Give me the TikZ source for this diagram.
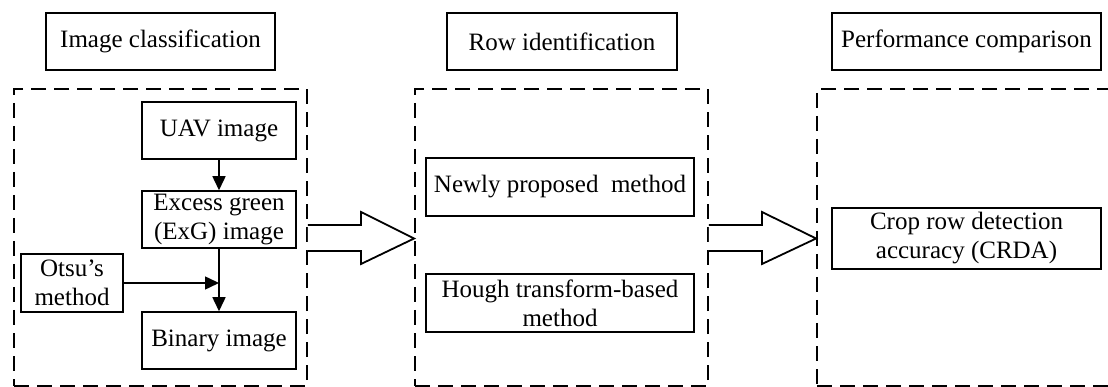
\documentclass[tikz,border=0pt]{standalone}
\usepackage{fontspec}
\setmainfont{Liberation Serif}
\usetikzlibrary{arrows.meta,calc}
\begin{document}
\begin{tikzpicture}[x=1pt,y=-1pt,
  every node/.style={font=\fontsize{25}{29}\selectfont},
  box/.style={draw,line width=1.5pt,inner sep=0pt,align=center,anchor=center},
  dbox/.style={draw,dash pattern=on 15pt off 8pt,line width=1.8pt,inner sep=0pt,anchor=center},
  arr/.style={line width=1.5pt,-{Triangle[length=14pt,width=13pt]}},
  bigarrow/.style={line width=1.8pt,line join=miter}]
\useasboundingbox (0,0) rectangle (1108,387);
% section titles
\node[box,minimum width=229pt,minimum height=57pt] (t1) at (160.5,41.5) {Image classification};
\node[box,minimum width=230pt,minimum height=57pt] (t2) at (562,41.5) {Row identification};
\node[box,minimum width=269pt,minimum height=57pt] (t3) at (966.5,41.5) {Performance comparison};
% dashed containers
\node[dbox,minimum width=293pt,minimum height=297pt] (d1) at (160.5,237.5) {};
\node[dbox,minimum width=293pt,minimum height=297pt] (d2) at (561.5,237.5) {};
\node[dbox,minimum width=298pt,minimum height=297pt] (d3) at (966,237.5) {};
% image classification
\node[box,minimum width=154pt,minimum height=57pt] (uav) at (219,130.5) {UAV image};
\node[box,minimum width=154pt,minimum height=57pt] (exg) at (219,219.5) {Excess green\\(ExG) image};
\node[box,minimum width=102pt,minimum height=58pt] (otsu) at (72,283) {Otsu’s\\method};
\node[box,minimum width=154pt,minimum height=57pt] (bin) at (219,340.5) {Binary image};
\draw[arr] (uav) -- (exg);
\draw[arr] (exg) -- (bin);
\coordinate (join) at (otsu.east -| exg.south);
\draw[arr] (otsu.east) -- (join);
% row identification
\node[box,minimum width=268pt,minimum height=58pt] (new) at (560,187) {Newly proposed\ \ method};
\node[box,minimum width=268pt,minimum height=58pt] (hough) at (560,303) {Hough transform-based\\method};
% performance comparison
\node[box,minimum width=269pt,minimum height=61pt] (crda) at (966.5,238.5) {Crop row detection\\accuracy (CRDA)};
% big arrows
\draw[bigarrow,fill=white] (d1.east |- 0,225) -- (361,225) -- (361,212) -- (d2.west |- 0,238.5) -- (361,264) -- (361,251) -- (d1.east |- 0,251);
\draw[bigarrow,fill=white] (d2.east |- 0,225) -- (762,225) -- (762,212) -- (d3.west |- 0,238.5) -- (762,264) -- (762,251) -- (d2.east |- 0,251);
\end{tikzpicture}
\end{document}
